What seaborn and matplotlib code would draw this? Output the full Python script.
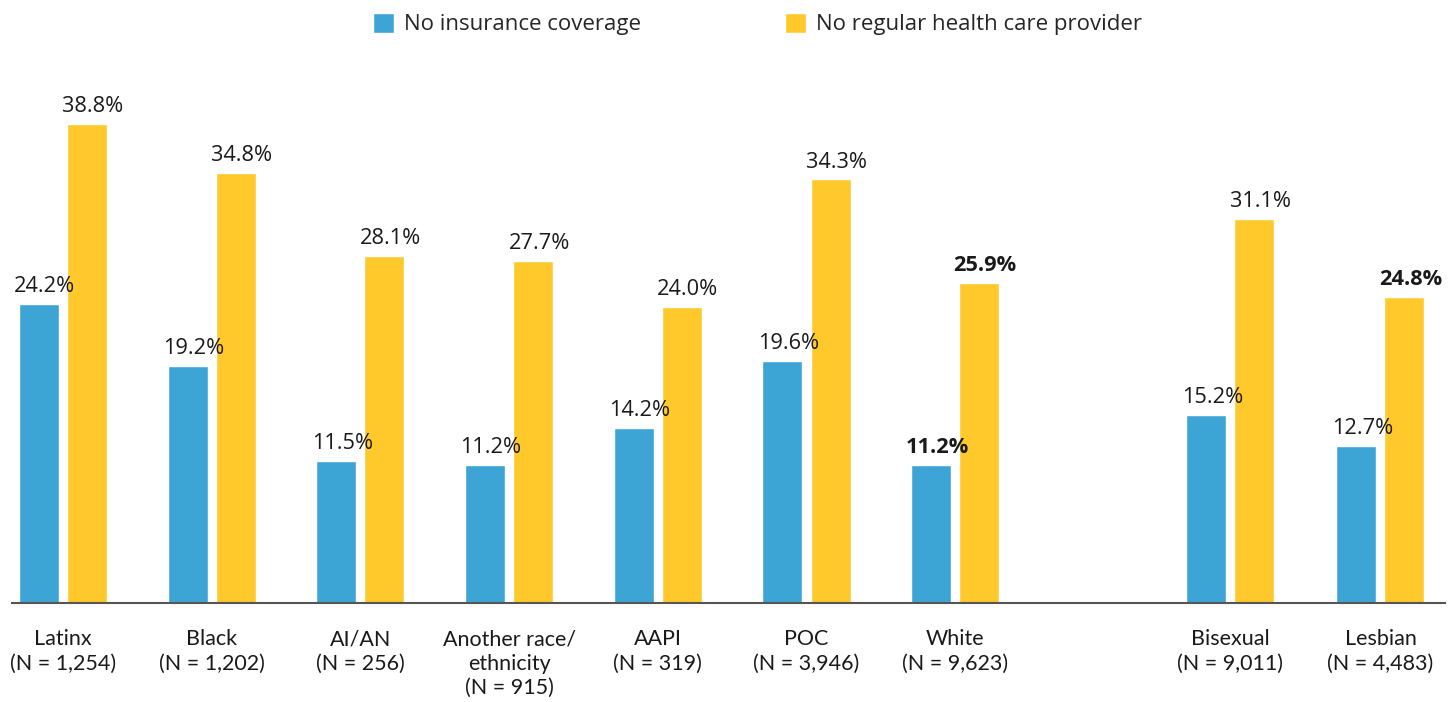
import matplotlib.pyplot as plt
import seaborn as sns
import pandas as pd

# data
groups = ["Latinx", "Black", "AI/AN", "Another race/\nethnicity", "AAPI",
          "POC", "White", "Bisexual", "Lesbian"]
sample_sizes = ["1,254", "1,202", "256", "915", "319", "3,946", "9,623", "9,011", "4,483"]
no_insurance = [24.2, 19.2, 11.5, 11.2, 14.2, 19.6, 11.2, 15.2, 12.7]
no_provider = [38.8, 34.8, 28.1, 27.7, 24.0, 34.3, 25.9, 31.1, 24.8]
# gap between race/ethnicity groups and sexual orientation groups
positions = [0, 1, 2, 3, 4, 5, 6, 7.85, 8.86]
# labels printed in bold: (series index, group)
bold_labels = [(0, "White"), (1, "White"), (1, "Lesbian")]
series_names = ["No insurance coverage", "No regular health care provider"]

blue = "#3DA5D5"
yellow = "#FFC92C"

df = pd.DataFrame({
    "group": groups,
    "pos": positions,
    series_names[0]: no_insurance,
    series_names[1]: no_provider,
})
long_df = df.melt(id_vars=["group", "pos"], value_vars=series_names,
                  var_name="measure", value_name="value")

sns.set_theme(style="white")
plt.rcParams["font.family"] = ["Open Sans", "DejaVu Sans"]

fig = plt.figure(figsize=(14.53, 7.02), dpi=100)
ax = fig.add_axes([12 / 1453, 99 / 702, 1433 / 1453, 0.739])

sns.barplot(data=long_df, x="pos", y="value", hue="measure", hue_order=series_names,
            native_scale=True, width=0.646, gap=0.167, palette=[blue, yellow],
            saturation=1, errorbar=None, ax=ax)

# value labels above bars
for i, (container, values) in enumerate(zip(ax.containers, [no_insurance, no_provider])):
    for bar, group, v in zip(container, groups, values):
        weight = "bold" if (i, group) in bold_labels else "normal"
        ax.annotate(f"{v:.1f}%", (bar.get_x() + bar.get_width() / 2, bar.get_height()),
                    xytext=(4.3, 8.5), textcoords="offset points",
                    ha="center", va="baseline", fontsize=15.7,
                    fontweight=weight, color="#1a1a1a")

ax.set_xlim(-0.343, 9.294)
ax.set_ylim(0, 42.0)
ax.set_xticks(positions)
ax.set_xticklabels([f"{g}\n(N = {n})" for g, n in zip(groups, sample_sizes)],
                   fontsize=15.5, family=["Lato", "DejaVu Sans"], color="#1a1a1a",
                   linespacing=1.28)
ax.tick_params(axis="x", length=0, pad=19)
ax.set_yticks([])
ax.set_xlabel("")
ax.set_ylabel("")
for side in ["top", "left", "right"]:
    ax.spines[side].set_visible(False)
ax.spines["bottom"].set_color("#555555")
ax.spines["bottom"].set_linewidth(1.5)

handles, labels = ax.get_legend_handles_labels()
ax.legend(handles, labels, loc="center", bbox_to_anchor=(757.5 / 1453, 1 - 24 / 702),
          bbox_transform=fig.transFigure, ncol=2, frameon=False,
          fontsize=16, handlelength=0.92, handleheight=1.0,
          handletextpad=0.45, columnspacing=6.5)

fig.savefig("out.png", dpi=100)
